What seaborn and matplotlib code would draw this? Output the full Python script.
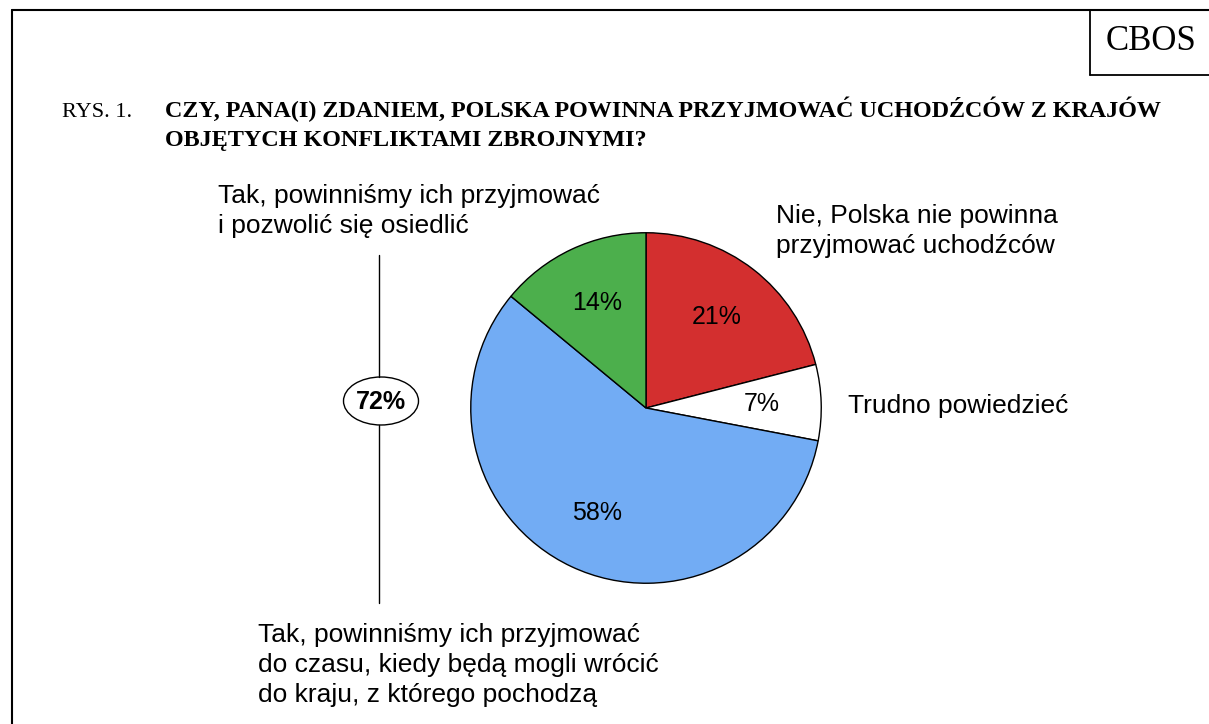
import matplotlib
matplotlib.use("Agg")
import matplotlib.pyplot as plt
from matplotlib.patches import Ellipse
import seaborn as sns

sns.set_theme(style="white")
plt.rcParams['font.family'] = ['Liberation Sans', 'DejaVu Sans']
plt.rcParams['text.color'] = 'black'

# Data
categories = ["Nie, Polska nie powinna\nprzyjmować uchodźców",
              "Trudno powiedzieć",
              "Tak, powinniśmy ich przyjmować\ndo czasu, kiedy będą mogli wrócić\ndo kraju, z którego pochodzą",
              "Tak, powinniśmy ich przyjmować\ni pozwolić się osiedlić"]
values = [21, 7, 58, 14]
colors = ["#d32f2f", "#ffffff", "#72acf4", "#4caf4c"]
total_yes_label = "72%"
title_prefix = "RYS. 1."
title_lines = ["CZY, PANA(I) ZDANIEM, POLSKA POWINNA PRZYJMOWAĆ UCHODŹCÓW Z KRAJÓW",
               "OBJĘTYCH KONFLIKTAMI ZBROJNYMI?"]
source = "CBOS"

W, H = 1209, 724
fig = plt.figure(figsize=(W / 100, H / 100), dpi=100)
fig.patch.set_facecolor("white")

# background axes in pixel coordinates
bg = fig.add_axes([0, 0, 1, 1])
bg.set_xlim(0, W)
bg.set_ylim(H, 0)
bg.axis("off")

# frame
bg.plot([12, 12], [10, H], color="black", lw=1.5)
bg.plot([12, W], [10, 10], color="black", lw=1.5)
bg.plot([1090, 1090], [10, 75], color="black", lw=1.3)
bg.plot([1090, W], [75, 75], color="black", lw=1.3)
bg.text(1151, 42, source, family="Liberation Serif", fontsize=25, ha="center", va="center")

# title
bg.text(62, 117, title_prefix, family="Liberation Serif", fontsize=16, ha="left", va="baseline")
bg.text(165, 117, title_lines[0], family="Liberation Serif", fontsize=17.35,
        fontweight="bold", ha="left", va="baseline")
bg.text(165, 146, title_lines[1], family="Liberation Serif", fontsize=17.35,
        fontweight="bold", ha="left", va="baseline")

# pie
cx, cy, r = 646, 408, 177
pax = fig.add_axes([(cx - r) / W, (H - cy - r) / H, 2 * r / W, 2 * r / H])
wedges, texts, autotexts = pax.pie(values, colors=colors, startangle=90, counterclock=False,
                                   autopct=lambda p: f"{p:.0f}%", pctdistance=0.66,
                                   wedgeprops=dict(edgecolor="black", linewidth=1.0),
                                   textprops=dict(fontsize=18, color="black"))
pax.set_xlim(-1.01, 1.01)
pax.set_ylim(-1.01, 1.01)
pax.set_aspect("equal")
pax.axis("off")

# category labels (first-line baseline positions)
label_pos = [(776, 223), (848, 413), (258, 642), (218, 203)]
line_gap = 30
for cat, (x, y) in zip(categories, label_pos):
    for i, line in enumerate(cat.split("\n")):
        bg.text(x, y + i * line_gap, line, fontsize=19, ha="left", va="baseline", color="black")

# bracket line with 72%
bg.plot([379, 379], [255, 377], color="black", lw=1)
bg.plot([379, 379], [425, 603], color="black", lw=1)
bg.add_patch(Ellipse((381, 401), 75, 48, facecolor="white", edgecolor="black", lw=1))
bg.text(381, 402, total_yes_label, fontsize=18, fontweight="bold", ha="center", va="center")

fig.savefig("out.png", dpi=100)
